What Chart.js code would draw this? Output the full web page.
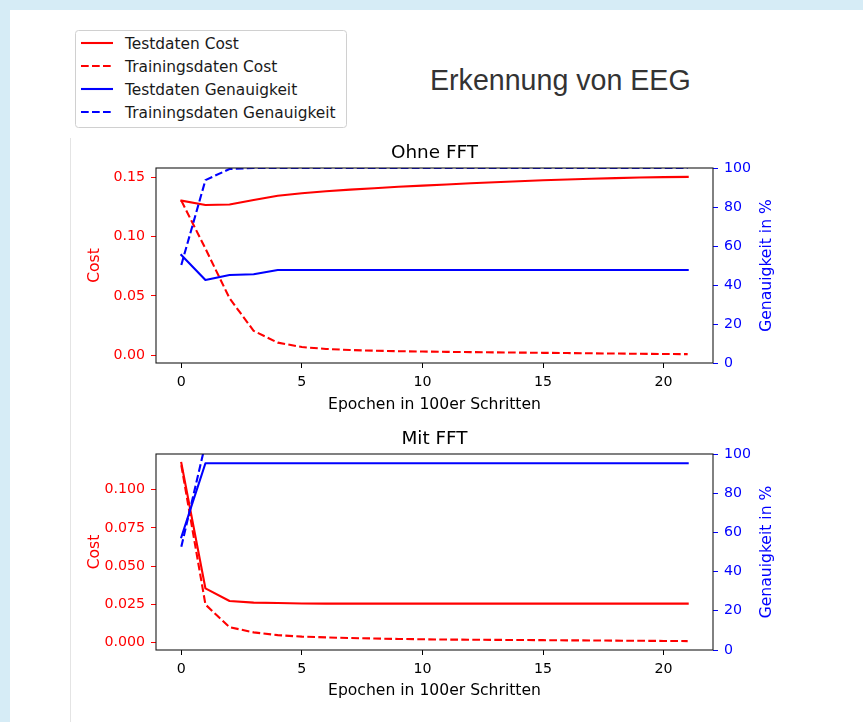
<!DOCTYPE html>
<html>
<head>
<meta charset="utf-8">
<script src="https://cdn.jsdelivr.net/npm/chart.js@4.4.1/dist/chart.umd.min.js"></script>
<style>
  html, body { margin: 0; padding: 0; }
  body { width: 863px; height: 722px; background: #d6ecf6; position: relative; overflow: hidden; }
  #panel { position: absolute; left: 10px; top: 10px; right: 0; bottom: 0; background: #ffffff; }
  #overlay { position: absolute; left: 0; top: 0; }
  canvas { position: absolute; left: 0; }
  #c1 { top: 130px; }
  #c2 { top: 420px; }
</style>
</head>
<body>
<div id="panel"></div>
<svg id="overlay" width="863" height="722" xmlns="http://www.w3.org/2000/svg"></svg>
<canvas id="c1" width="863" height="290"></canvas>
<canvas id="c2" width="863" height="302"></canvas>
<script>
// ---- data ----
const epochs = [0, 1, 2, 3, 4, 5, 6, 7, 8, 9, 10, 11, 12, 13, 14, 15, 16, 17, 18, 19, 20, 21];

// without FFT
const ohneTestCost  = [0.1305, 0.1268, 0.1272, 0.1310, 0.1346, 0.1368, 0.1384, 0.1398, 0.1410, 0.1422, 0.1432,
                       0.1442, 0.1452, 0.1461, 0.1469, 0.1477, 0.1484, 0.1490, 0.1495, 0.1500, 0.1504, 0.1506];
const ohneTrainCost = [0.1305, 0.0900, 0.0480, 0.0205, 0.0105, 0.0068, 0.0052, 0.0043, 0.0037, 0.0033, 0.0030,
                       0.0027, 0.0025, 0.0023, 0.0021, 0.0019, 0.0017, 0.0015, 0.0013, 0.0011, 0.0009, 0.0008];
const ohneTestAcc   = [55.4, 42.6, 45.1, 45.5, 47.7, 47.7, 47.7, 47.7, 47.7, 47.7, 47.7,
                       47.7, 47.7, 47.7, 47.7, 47.7, 47.7, 47.7, 47.7, 47.7, 47.7, 47.7];
const ohneTrainAcc  = [50.3, 93.8, 99.5, 100, 100, 100, 100, 100, 100, 100, 100,
                       100, 100, 100, 100, 100, 100, 100, 100, 100, 100, 100];

// with FFT
const mitTestCost  = [0.1175, 0.0355, 0.0273, 0.0262, 0.0260, 0.0257, 0.0256, 0.0256, 0.0256, 0.0256, 0.0256,
                      0.0256, 0.0256, 0.0256, 0.0256, 0.0256, 0.0256, 0.0256, 0.0256, 0.0256, 0.0256, 0.0256];
const mitTrainCost = [0.1160, 0.0250, 0.0102, 0.0068, 0.0050, 0.0040, 0.0035, 0.0031, 0.0028, 0.0025, 0.0023,
                      0.0021, 0.0020, 0.0019, 0.0018, 0.0017, 0.0016, 0.0015, 0.0014, 0.0013, 0.0012, 0.0011];
const mitTestAcc   = [57.5, 95.3, 95.3, 95.3, 95.3, 95.3, 95.3, 95.3, 95.3, 95.3, 95.3,
                      95.3, 95.3, 95.3, 95.3, 95.3, 95.3, 95.3, 95.3, 95.3, 95.3, 95.3];
const mitTrainAcc  = [52.7, 105.3, 105.3, 105.3, 105.3, 105.3, 105.3, 105.3, 105.3, 105.3, 105.3,
                      105.3, 105.3, 105.3, 105.3, 105.3, 105.3, 105.3, 105.3, 105.3, 105.3, 105.3];

// labels and ticks
const seriesLabels = ['Testdaten Cost', 'Trainingsdaten Cost', 'Testdaten Genauigkeit', 'Trainingsdaten Genauigkeit'];
const panelTitles = ['Ohne FFT', 'Mit FFT'];
const mainTitle = 'Erkennung von EEG';
const xTitle = 'Epochen in 100er Schritten';
const costTitle = 'Cost';
const accTitle = 'Genauigkeit in %';
const epochTicks = [0, 5, 10, 15, 20];
const ohneCostTicks = [0, 0.05, 0.10, 0.15];
const mitCostTicks = [0, 0.025, 0.05, 0.075, 0.1];
const accTicks = [0, 20, 40, 60, 80, 100];

// ---- styling ----
const RED = '#ff0000', BLUE = '#0000ff';
const DASH = [7.7, 3.3];
const FONT = 'DejaVu Sans';
const TICK_SIZE = 14.2, LABEL_SIZE = 15.6, PANEL_TITLE_SIZE = 18.4;
const seriesStyles = [
  { color: RED, dashed: false },
  { color: RED, dashed: true },
  { color: BLUE, dashed: false },
  { color: BLUE, dashed: true }
];

Chart.defaults.font.family = FONT;
Chart.defaults.font.size = TICK_SIZE;
Chart.defaults.color = '#000';

// ---- header: title and legend ----
(function drawHeader() {
  const NS = 'http://www.w3.org/2000/svg';
  const svg = document.getElementById('overlay');
  const el = (tag, attrs, text) => {
    const n = document.createElementNS(NS, tag);
    for (const k in attrs) n.setAttribute(k, attrs[k]);
    if (text !== undefined) n.textContent = text;
    svg.appendChild(n);
    return n;
  };
  // thin divider on the left of the figure
  el('line', { x1: 70.5, y1: 138, x2: 70.5, y2: 722, stroke: '#e4e4e4', 'stroke-width': 1 });
  // main heading
  el('text', { x: 430, y: 90, 'font-family': 'Liberation Sans, Arial, sans-serif', 'font-size': 28.6, fill: '#333333' }, mainTitle);
  // legend frame
  el('rect', { x: 75.5, y: 30.5, width: 271, height: 97, rx: 3, ry: 3, fill: '#ffffff', 'fill-opacity': 0.8, stroke: '#d0d0d0', 'stroke-width': 1 });
  seriesLabels.forEach((label, i) => {
    const st = seriesStyles[i];
    const y = 43 + i * 23;
    const ln = { x1: 81, y1: y, x2: 113, y2: y, stroke: st.color, 'stroke-width': 2.1 };
    if (st.dashed) ln['stroke-dasharray'] = DASH.join(' ');
    el('line', ln);
    el('text', { x: 125, y: y + 6.2, 'font-family': FONT, 'font-size': 15.4, fill: '#1a1a1a' }, label);
  });
})();

// frame, panel heading and right-hand axis title
const framePlugin = {
  id: 'frame',
  afterDatasetsDraw(chart, args, opts) {
    const { ctx, chartArea: a } = chart;
    ctx.save();
    ctx.strokeStyle = '#1a1a1a';
    ctx.lineWidth = 1.1;
    ctx.strokeRect(a.left, a.top, a.right - a.left, a.bottom - a.top);
    ctx.restore();
  },
  afterDraw(chart, args, opts) {
    const { ctx, chartArea: a } = chart;
    ctx.save();
    ctx.fillStyle = '#000';
    ctx.font = PANEL_TITLE_SIZE + 'px "' + FONT + '"';
    ctx.textAlign = 'center';
    ctx.textBaseline = 'alphabetic';
    ctx.fillText(opts.title, (a.left + a.right) / 2, a.top - 9.7);
    ctx.translate(opts.rightTitleX, (a.top + a.bottom) / 2);
    ctx.rotate(-Math.PI / 2);
    ctx.fillStyle = BLUE;
    ctx.font = LABEL_SIZE + 'px "' + FONT + '"';
    ctx.textBaseline = 'middle';
    ctx.fillText(accTitle, 0, 0);
    ctx.restore();
  }
};

function span(values) {
  const lo = Math.min(...values), hi = Math.max(...values);
  const m = (hi - lo) * 0.05;
  return { min: lo - m, max: hi + m };
}

function makePanel(id, title, series, costTicks, digits, topPad, xHeight, xTitlePad) {
  const toPoints = arr => epochs.map((e, i) => ({ x: e, y: arr[i] }));
  const axes = ['y', 'y', 'y2', 'y2'];
  const order = [1, 1, 0, 0];
  const datasets = series.map((arr, i) => ({
    label: seriesLabels[i],
    data: toPoints(arr),
    yAxisID: axes[i],
    order: order[i],
    borderColor: seriesStyles[i].color,
    borderWidth: 2.1,
    borderDash: seriesStyles[i].dashed ? DASH : [],
    borderCapStyle: seriesStyles[i].dashed ? 'butt' : 'square',
    borderJoinStyle: 'round',
    pointRadius: 0,
    tension: 0,
    fill: false
  }));
  const xr = span(epochs);
  const cr = span(series[0].concat(series[1]));
  const fixTicks = list => scale => { scale.ticks = list.map(v => ({ value: v })); };

  return new Chart(document.getElementById(id), {
    type: 'line',
    data: { datasets },
    options: {
      responsive: false,
      animation: false,
      devicePixelRatio: 1,
      events: [],
      layout: { padding: { top: topPad, left: 0, right: 0, bottom: 0 } },
      plugins: {
        legend: { display: false },
        tooltip: { enabled: false },
        title: { display: false },
        frame: { title: title, rightTitleX: 767 }
      },
      scales: {
        x: {
          type: 'linear',
          position: 'bottom',
          min: xr.min, max: xr.max,
          afterBuildTicks: fixTicks(epochTicks),
          afterFit: s => { s.height = xHeight; },
          border: { display: false },
          grid: { drawOnChartArea: false, drawTicks: true, tickLength: 5, color: '#000', lineWidth: 1 },
          ticks: { color: '#000', padding: 5.5, maxRotation: 0, callback: v => String(v) },
          title: { display: true, text: xTitle, color: '#000', font: { size: LABEL_SIZE }, padding: { top: 0, bottom: xTitlePad } }
        },
        y: {
          type: 'linear',
          position: 'left',
          min: cr.min, max: cr.max,
          afterBuildTicks: fixTicks(costTicks),
          afterFit: s => { s.width = 156; },
          border: { display: false },
          grid: { drawOnChartArea: false, drawTicks: true, tickLength: 5, color: RED, lineWidth: 1 },
          ticks: { color: RED, padding: 6, callback: v => v.toFixed(digits) },
          title: { display: true, text: costTitle, color: RED, font: { size: LABEL_SIZE }, padding: { top: 86, bottom: 0 } }
        },
        y2: {
          type: 'linear',
          position: 'right',
          min: 0, max: 100,
          afterBuildTicks: fixTicks(accTicks),
          afterFit: s => { s.width = 150; },
          border: { display: false },
          grid: { drawOnChartArea: false, drawTicks: true, tickLength: 5, color: BLUE, lineWidth: 1 },
          ticks: { color: BLUE, padding: 6, callback: v => String(v) }
        }
      }
    },
    plugins: [framePlugin]
  });
}

makePanel('c1', panelTitles[0], [ohneTestCost, ohneTrainCost, ohneTestAcc, ohneTrainAcc], ohneCostTicks, 2, 38, 57, 6.2);
makePanel('c2', panelTitles[1], [mitTestCost, mitTrainCost, mitTestAcc, mitTrainAcc], mitCostTicks, 3, 34, 72, 22.0);
</script>
</body>
</html>
